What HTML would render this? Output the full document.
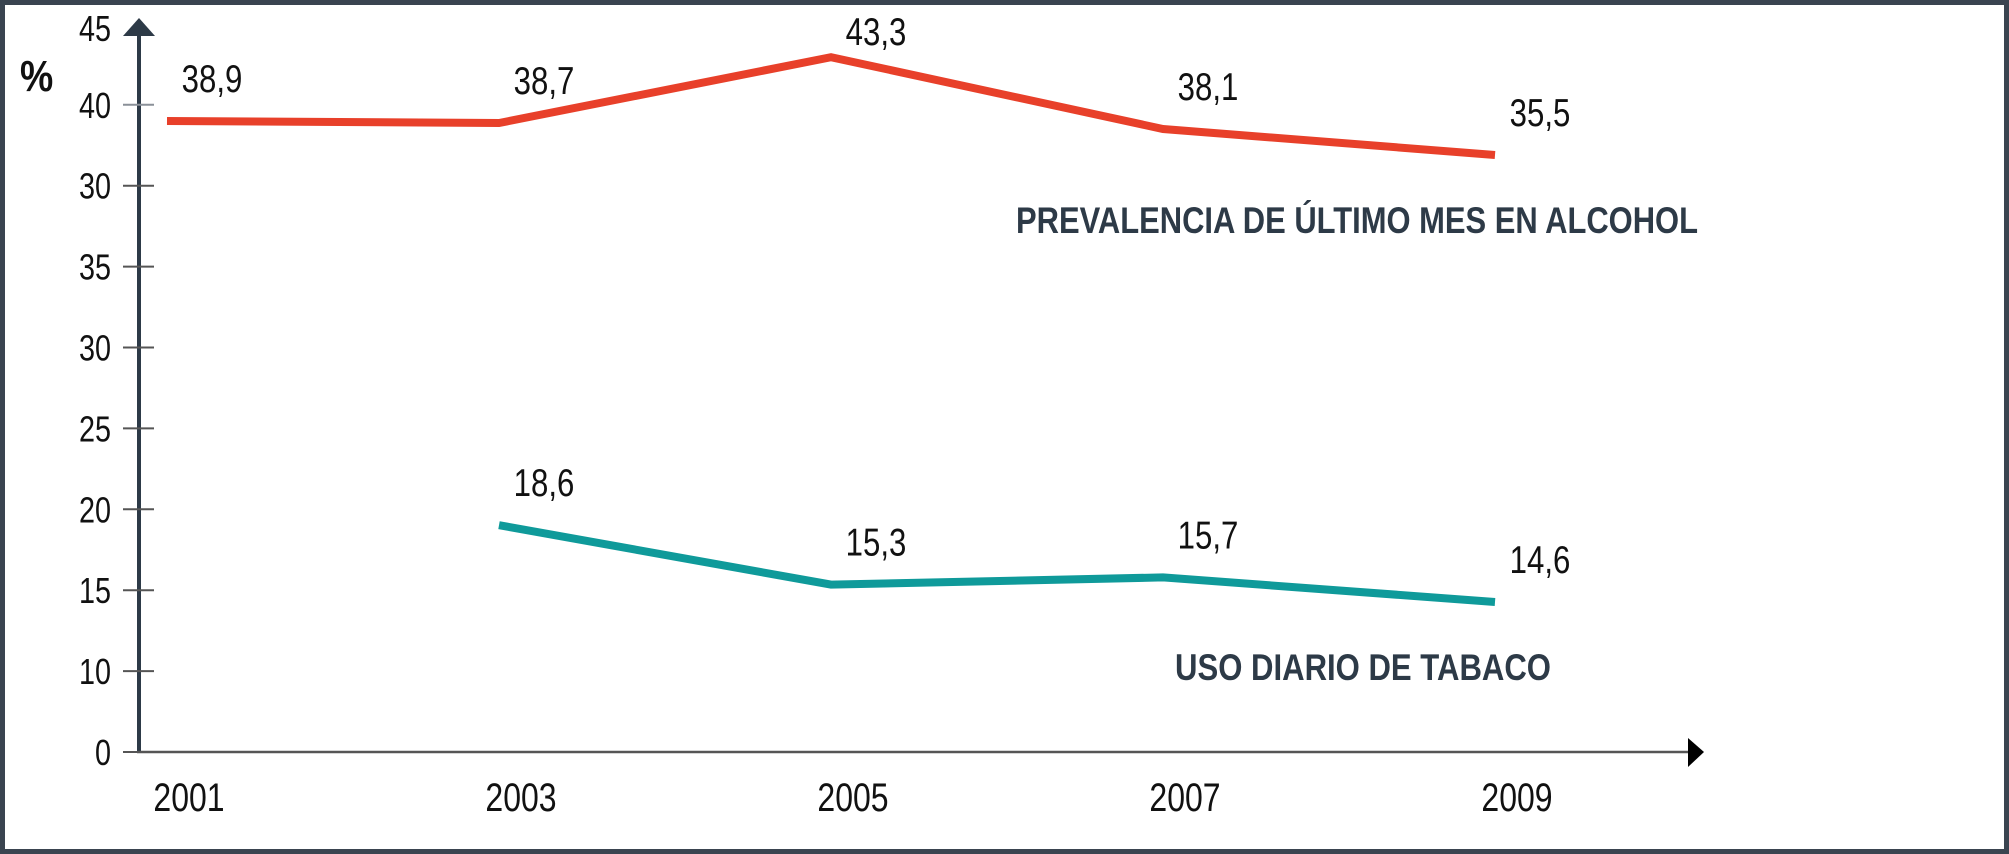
<!DOCTYPE html>
<html><head><meta charset="utf-8"><style>
html,body{margin:0;padding:0;background:#fff;}
svg{display:block;}
text{font-family:"Liberation Sans Narrow","Liberation Sans",sans-serif;}
</style></head><body>
<svg id="chart" width="2009" height="854" viewBox="0 0 2009 854">
<rect x="2.5" y="2.5" width="2004" height="849" fill="#fff" stroke="#3a4450" stroke-width="5"/>
<g id="axes"></g>
<g id="series"></g>
<text x="20" y="91" font-size="44" font-weight="bold" fill="#111" transform="translate(20,0) scale(0.85,1) translate(-20,0)">%</text>
<text x="1016" y="233" font-size="37" font-weight="bold" fill="#2d3a47" textLength="682" lengthAdjust="spacingAndGlyphs">PREVALENCIA DE ÚLTIMO MES EN ALCOHOL</text>
<text x="1175" y="680" font-size="37" font-weight="bold" fill="#2d3a47" textLength="376" lengthAdjust="spacingAndGlyphs">USO DIARIO DE TABACO</text>
</svg>
<script>
const years = ["2001","2003","2005","2007","2009"];
const alcohol = [38.9, 38.7, 43.3, 38.1, 35.5];
const tobacco = [null, 18.6, 15.3, 15.7, 14.6];
const alcoholLabels = ["38,9","38,7","43,3","38,1","35,5"];
const tobaccoLabels = [null,"18,6","15,3","15,7","14,6"];
const yTickLabels = ["0","10","15","20","25","30","35","30","40","45"];

const NS = "http://www.w3.org/2000/svg";
// piecewise-linear value axis (the printed axis is non-uniform)
const yDomain = [0, 10, 15, 20, 35, 40, 45];
const yRange  = [752, 740, 590, 500, 160, 110, 30];
function xPos(i){ return 167 + 332*i; }
function yPos(v){
  for (let k=0;k<yDomain.length-1;k++){
    if (v <= yDomain[k+1] || k===yDomain.length-2){
      const t = (v - yDomain[k])/(yDomain[k+1]-yDomain[k]);
      return yRange[k] + t*(yRange[k+1]-yRange[k]);
    }
  }
}
function tickY(k){ return 752 - 80.9*k; }
function mk(tag, attrs, parent){
  const e = document.createElementNS(NS, tag);
  for (const k in attrs) e.setAttribute(k, attrs[k]);
  parent.appendChild(e); return e;
}
function txt(x, y, size, anchor, sx, parent){
  return mk("text",{x:0,y:0,"font-size":size,"text-anchor":anchor,fill:"#111",
    transform:"translate("+x+","+y+") scale("+sx+",1)"},parent);
}
const axes = document.getElementById("axes");
const series = document.getElementById("series");
const ax = "#2d3a47";

let yAxis = mk("line",{x1:139,y1:752,x2:139,y2:34,stroke:ax,"stroke-width":4},axes);


let yArrow = mk("polygon",{points:"123,36 139,18 155,36",fill:ax},axes);


let xAxis = mk("line",{x1:137,y1:752,x2:1690,y2:752,stroke:"#555","stroke-width":2.5},axes);


let xArrow = mk("polygon",{points:"1688,738 1704,752 1688,767",fill:"#000"},axes);



yTickLabels.forEach((lab,k)=>{
  const y = k===yTickLabels.length-1 ? 28 : tickY(k);
  if (k < yTickLabels.length-1){
    const t = mk("line",{x1:123,y1:y,x2:154,y2:y,stroke:k===8?"#8a9098":"#555","stroke-width":2},axes);
    
    
  }
  const tx = txt(111, y+13, 36, "end", 0.8, axes);
  tx.textContent = lab;
  
  
});

years.forEach((yr,i)=>{
  const t = txt(xPos(i)+22, 811, 40, "middle", 0.8, axes);
  t.textContent = yr;
  
  
});

function drawSeries(vals, labels, color, name){
  const pts = [];
  vals.forEach((v,i)=>{ if(v!==null) pts.push(xPos(i)+","+yPos(v)); });
  const p = mk("polyline",{points:pts.join(" "),fill:"none",stroke:color,"stroke-width":8,"stroke-linejoin":"miter"},series);
  
  
  vals.forEach((v,i)=>{
    if(v===null) return;
    const t = txt(xPos(i)+45, Math.max(yPos(v)-29, 45), 39, "middle", 0.8, series);
    t.textContent = labels[i];
    
    
  });
}
drawSeries(alcohol, alcoholLabels, "#e8402a", "alcohol");
drawSeries(tobacco, tobaccoLabels, "#0f9a9a", "tobacco");
</script>
</body></html>
